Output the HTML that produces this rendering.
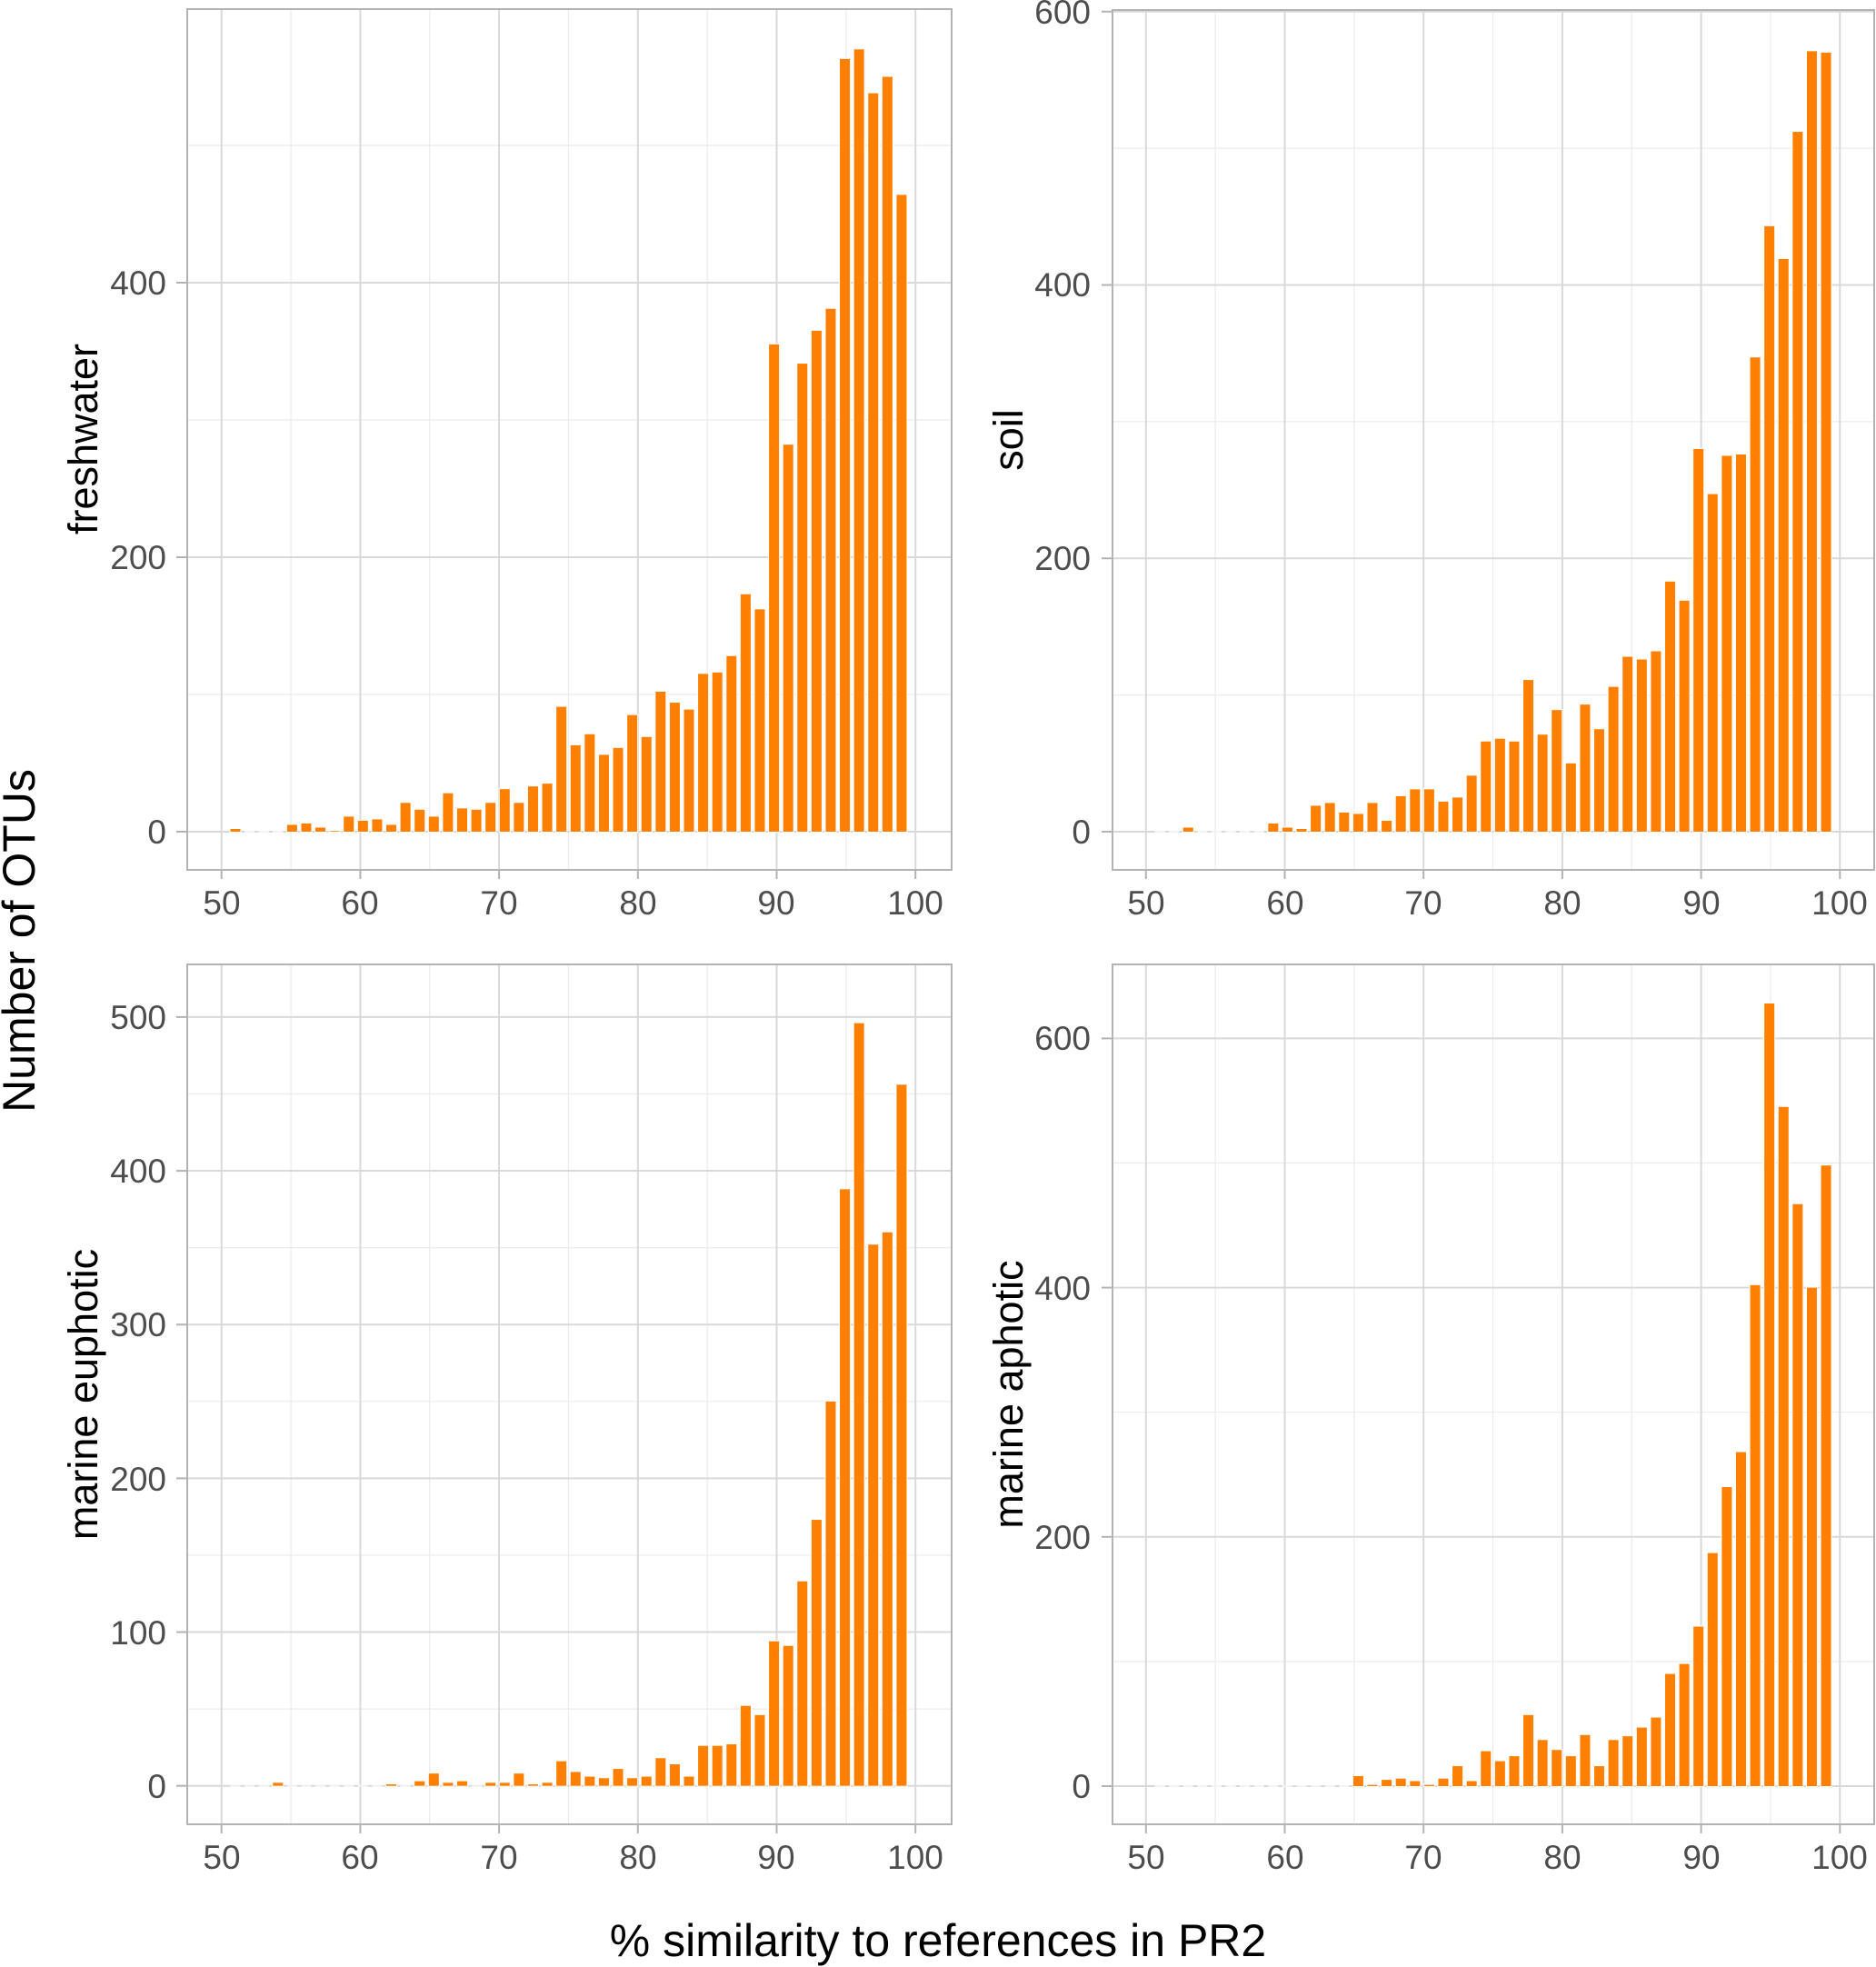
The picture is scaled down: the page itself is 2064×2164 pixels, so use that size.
<!DOCTYPE html>
<html><head><meta charset="utf-8"><style>
html,body{margin:0;padding:0;background:#fff;}
svg{display:block;}
text{font-family:"Liberation Sans",Arial,sans-serif;}
.tk{font-size:37px;fill:#4d4d4d;}
.st{font-size:45px;fill:#000;}
.ti{font-size:50px;fill:#000;}
</style></head><body>
<svg id="s" xmlns="http://www.w3.org/2000/svg" width="2064" height="2164" viewBox="0 0 2064 2164">
<rect width="2064" height="2164" fill="#fff"/>
<g id="plots"></g>
<g class="tk" text-anchor="end">
<text x="183" y="928">0</text><text x="183" y="626">200</text><text x="183" y="324">400</text>
<text x="1200" y="928">0</text><text x="1200" y="627">200</text><text x="1200" y="326">400</text><text x="1200" y="26">600</text>
<text x="183" y="1978">0</text><text x="183" y="1809">100</text><text x="183" y="1640">200</text><text x="183" y="1470">300</text><text x="183" y="1301">400</text><text x="183" y="1132">500</text>
<text x="1200" y="1978">0</text><text x="1200" y="1704">200</text><text x="1200" y="1430">400</text><text x="1200" y="1155">600</text>
</g>
<g class="st" text-anchor="middle">
<text transform="translate(107,483) rotate(-90)">freshwater</text>
<text transform="translate(1125,484) rotate(-90)">soil</text>
<text transform="translate(107,1534) rotate(-90)">marine euphotic</text>
<text transform="translate(1125,1534) rotate(-90)">marine aphotic</text>
</g>
<g class="ti" text-anchor="middle">
<text transform="translate(38,1035) rotate(-90)">Number of OTUs</text>
<text x="1032" y="2152">% similarity to references in PR2</text>
</g>
<g class="tk" text-anchor="middle">
<text x="244" y="1006">50</text><text x="396" y="1006">60</text><text x="549" y="1006">70</text><text x="702" y="1006">80</text><text x="854" y="1006">90</text><text x="1007" y="1006">100</text>
<text x="1261" y="1006">50</text><text x="1414" y="1006">60</text><text x="1566" y="1006">70</text><text x="1719" y="1006">80</text><text x="1872" y="1006">90</text><text x="2024" y="1006">100</text>
<text x="244" y="2056">50</text><text x="396" y="2056">60</text><text x="549" y="2056">70</text><text x="702" y="2056">80</text><text x="854" y="2056">90</text><text x="1007" y="2056">100</text>
<text x="1261" y="2056">50</text><text x="1414" y="2056">60</text><text x="1566" y="2056">70</text><text x="1719" y="2056">80</text><text x="1872" y="2056">90</text><text x="2024" y="2056">100</text>
</g>
</svg>
<script>
(function(){
var NS="http://www.w3.org/2000/svg";
var g=document.getElementById("plots");
function el(n,a){var e=document.createElementNS(NS,n);for(var k in a)e.setAttribute(k,a[k]);g.appendChild(e);return e;}
var fresh=[2,0,0,0,5,6,3,0.5,11,8,9,5,21,16,11,28,17,16,21,31,21,33,35,91,63,71,56,61,85,69,102,94,89,115,116,128,173,162,355,282,341,365,381,563,570,538,550,464];
var soil=[0,0,3,0,0,0,0,0,6,3,2,19,21,14,13,21,8,26,31,31,22,25,41,66,68,66,111,71,89,50,93,75,106,128,126,132,183,169,280,247,275,276,347,443,419,512,571,570];
var eu=[0,0,0,2,0,0,0,0,0,0,0,1,0,3,8,2,3,0,2,2,8,1,2,16,9,6,5,11,5,6,18,14,6,26,26,27,52,46,94,91,133,173,250,388,496,352,360,456];
var aph=[0,0,0,0,0,0,0,0,0,0,0,0,0,0,8,1,5,6,4,1,6,16,4,28,20,24,57,37,29,24,41,16,37,40,47,55,90,98,128,187,240,268,402,628,545,467,400,498];
var P=[
{L:206,R:1047,T:10,B:957,x0:243.7,y0:915,ys:1.51,maj:[0,200,400],min:[100,300,500],d:fresh},
{L:1224,R:2062,T:11,B:957,x0:1260.8,y0:915,ys:1.5037,maj:[0,200,400,600],min:[100,300,500],d:soil},
{L:206,R:1047,T:1061,B:2007,x0:243.7,y0:1964.7,ys:1.6916,maj:[0,100,200,300,400,500],min:[50,150,250,350,450],d:eu},
{L:1224,R:2062,T:1061,B:2007,x0:1260.8,y0:1965,ys:1.371,maj:[0,200,400,600],min:[100,300,500],d:aph}];
var xs=15.27;
P.forEach(function(p){
 function X(v){return p.x0+(v-50)*xs;}
 function Y(v){return p.y0-v*p.ys;}
 [55,65,75,85,95].forEach(function(v){el("line",{x1:X(v),x2:X(v),y1:p.T,y2:p.B,stroke:"#ebebeb","stroke-width":1.2});});
 p.min.forEach(function(v){var y=Y(v);if(y>p.T)el("line",{x1:p.L,x2:p.R,y1:y,y2:y,stroke:"#ebebeb","stroke-width":1.2});});
 [50,60,70,80,90,100].forEach(function(v){el("line",{x1:X(v),x2:X(v),y1:p.T,y2:p.B,stroke:"#d9d9d9","stroke-width":2});
   el("line",{x1:X(v),x2:X(v),y1:p.B,y2:p.B+10,stroke:"#b3b3b3","stroke-width":2});});
 p.maj.forEach(function(v){var y=Y(v);el("line",{x1:p.L,x2:p.R,y1:y,y2:y,stroke:"#d9d9d9","stroke-width":2});
   el("line",{x1:p.L-12,x2:p.L,y1:y,y2:y,stroke:"#b3b3b3","stroke-width":2});});
 p.d.forEach(function(v,k){
   var c=X(51+k*1.0213), w=11;
   if(v<=0){el("rect",{x:c-w/2,y:p.y0-1,width:w,height:2,fill:"#f4f4f4"});return;}
   var h=v*p.ys;
   el("rect",{x:c-w/2-1,y:p.y0-h-1,width:w+2,height:h+2,fill:"#fff"});
   el("rect",{x:c-w/2,y:p.y0-h,width:w,height:h,fill:"#ff7f00"});
 });
 el("rect",{x:p.L,y:p.T,width:p.R-p.L,height:p.B-p.T,fill:"none",stroke:"#b3b3b3","stroke-width":2});
});
})();
</script>
</body></html>
